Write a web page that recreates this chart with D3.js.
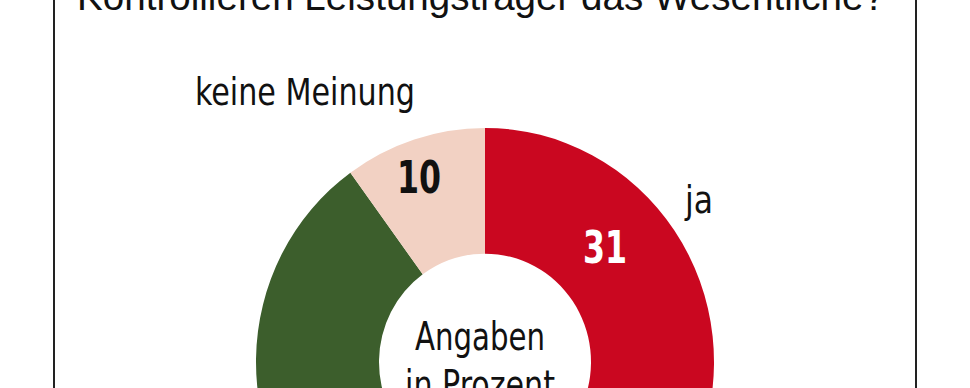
<!DOCTYPE html>
<html>
<head>
<meta charset="utf-8">
<script src="https://cdn.jsdelivr.net/npm/d3@7"></script>
<style>
  html, body { margin: 0; padding: 0; background: #fff; overflow: hidden; }
</style>
</head>
<body>
<div id="chart_div"></div>
<script>
// data
const title = "Kontrollieren Leistungsträger das Wesentliche?"
const categories = ["ja", "nein", "keine Meinung"]
const values = [31, 59, 10]
const centerLines = ["Angaben", "in Prozent"]

const colors = ["#ca0720", "#3c5e2c", "#f2d1c3"]
const valueColors = ["#ffffff", "#ffffff", "#111111"]

// set the dimensions
const width = 970,
  height = 388

const svg = d3.select("#chart_div")
  .append("svg")
  .attr("width", width)
  .attr("height", height)
  .attr("viewBox", `0 0 ${width} ${height}`)

// frame lines (only the sides are visible)
svg.append("line")
  .attr("x1", 54).attr("x2", 54).attr("y1", 0).attr("y2", height)
  .attr("stroke", "#222").attr("stroke-width", 2)
svg.append("line")
  .attr("x1", 916).attr("x2", 916).attr("y1", 0).attr("y2", height)
  .attr("stroke", "#222").attr("stroke-width", 2)

// title, cut off at the top
svg.append("text")
  .attr("x", 77)
  .attr("y", 10)
  .attr("font-family", "'Liberation Sans', Arial, sans-serif")
  .attr("font-size", 38.5)
  .attr("textLength", 808)
  .attr("lengthAdjust", "spacingAndGlyphs")
  .attr("fill", "#111")
  .text(title)

// donut
const cx = 485, cy = 362
const outerR = 229, innerR = 106

const pie = d3.pie().sort(null).value(d => d)
const arcs = pie(values)
const arc = d3.arc().innerRadius(innerR).outerRadius(outerR)

const donut = svg.append("g")
  .attr("transform", `translate(${cx},${cy}) scale(1,1.022)`)

donut.selectAll("path")
  .data(arcs)
  .join("path")
  .attr("d", arc)
  .attr("fill", (d, i) => colors[i])

// hand placed label offsets relative to the center
// (the "nein" labels sit below the visible crop, so they are not drawn)
const labelFont = "'Liberation Sans Narrow', 'DejaVu Sans Condensed', sans-serif"
const valuePos = {
  "ja": [120, -99],
  "keine Meinung": [-66, -169]
}
const namePos = {
  "ja": [200, -149, 28],
  "keine Meinung": [-290, -257, 220]
}

categories.forEach((c, i) => {
  if (!valuePos[c]) return
  const [vx, vy] = valuePos[c]
  svg.append("text")
    .attr("x", cx + vx)
    .attr("y", cy + vy)
    .attr("text-anchor", "middle")
    .attr("font-family", labelFont)
    .attr("font-weight", "bold")
    .attr("font-size", 44)
    .attr("textLength", 44)
    .attr("lengthAdjust", "spacingAndGlyphs")
    .attr("fill", valueColors[i])
    .text(values[i])

  const [nx, ny, nw] = namePos[c]
  svg.append("text")
    .attr("x", cx + nx)
    .attr("y", cy + ny)
    .attr("font-family", labelFont)
    .attr("font-size", 37)
    .attr("textLength", nw)
    .attr("lengthAdjust", "spacingAndGlyphs")
    .attr("fill", "#111")
    .text(c)
})

// center text
const centerWidths = [130, 150]
centerLines.forEach((t, i) => {
  svg.append("text")
    .attr("x", cx - 5)
    .attr("y", 350 + i * 48)
    .attr("text-anchor", "middle")
    .attr("font-family", labelFont)
    .attr("font-size", 39)
    .attr("textLength", centerWidths[i])
    .attr("lengthAdjust", "spacingAndGlyphs")
    .attr("fill", "#111")
    .text(t)
})
</script>
</body>
</html>
